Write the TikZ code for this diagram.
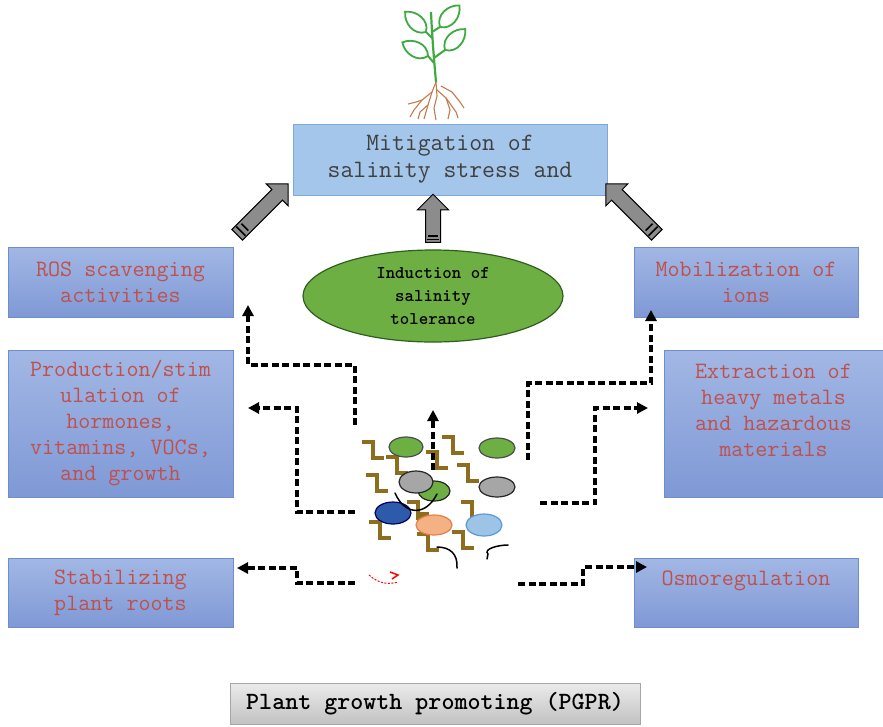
\documentclass[tikz,border=0pt]{standalone}
\usepackage{tikz}
\usetikzlibrary{positioning,shapes.geometric,shapes.arrows,arrows.meta,calc}

\definecolor{sidetop}{HTML}{A2B7E4}
\definecolor{sidebot}{HTML}{7F99D6}
\definecolor{sideline}{HTML}{6E8DCF}
\definecolor{sidetext}{HTML}{C0504D}
\definecolor{mainfill}{HTML}{A4C6EA}
\definecolor{mainline}{HTML}{7FA8DA}
\definecolor{tolfill}{HTML}{6DAF43}
\definecolor{tolline}{HTML}{2F5F1C}
\definecolor{zigcol}{HTML}{8C6E1E}
\definecolor{stemcol}{HTML}{3DAA42}
\definecolor{rootcol}{HTML}{C27A4E}

\begin{document}
\begin{tikzpicture}[x=1pt,y=-1pt,
    sidebox/.style={draw=sideline, top color=sidetop, bottom color=sidebot,
        minimum width=225pt, minimum height=70pt, inner sep=0pt, align=center,
        text=sidetext, font=\ttfamily\fontsize{23.4}{26}\selectfont},
    mainbox/.style={draw=mainline, fill=mainfill, minimum width=314pt,
        minimum height=71pt, inner sep=0pt, align=center, text=black!75,
        font=\ttfamily\fontsize{25}{27}\selectfont},
    bigarrow/.style={single arrow, draw=black, line width=1pt, fill=black!45,
        minimum height=#1, inner sep=7pt, single arrow head extend=8pt,
        single arrow head indent=0pt},
    dasharrow/.style={line width=3.2pt, dash pattern=on 7pt off 3.5pt,
        -{Triangle[length=11pt,width=11pt]}},
    zig/.style={zigcol, line width=4.6pt},
    cell/.style={line width=1.2pt},
    squig/.style={line width=1.5pt, line cap=round},
    leaf/.style={stemcol, line width=1.8pt, fill=white},
    root/.style={rootcol, line width=1.1pt}]

\useasboundingbox (0,0) rectangle (883,726);

% plant on top
\draw[root] (436,82) -- (432,92) -- (422,100) -- (414,110) -- (410,117);
\draw[root] (432,92) -- (428,105) -- (424,119);
\draw[root] (436,82) -- (437,96) -- (434,108) -- (436,120);
\draw[root] (437,90) -- (446,98) -- (450,110) -- (448,119);
\draw[root] (441,86) -- (452,92) -- (460,102) -- (464,108);
\draw[root] (422,100) -- (416,102) -- (408,104);
\draw[root] (446,98) -- (456,112) -- (458,118);
\draw[root] (428,105) -- (420,112) -- (418,119);
\draw[stemcol, line width=2.2pt] (436,82) .. controls (434,60) and (432,35) .. (431,12);
\draw[stemcol, line width=2pt] (432,38) -- (426,32);
\draw[stemcol, line width=2pt] (432,32) -- (440,27);
\draw[stemcol, line width=2pt] (434,58) -- (445,50);
\draw[stemcol, line width=2pt] (434,63) -- (428,56);
\foreach \bx/\by/\ang in {426/32/136, 440/27/48, 445/50/46, 428/56/152}
    \draw[leaf, shift={(\bx,\by)}, rotate=\ang]
        (0,0) .. controls (6,-11) and (22,-9) .. (29,0)
              .. controls (22,9) and (6,11) .. (0,0);

% boxes
\node[mainbox] (mitig) at (450,159.5) {Mitigation of\\salinity stress and};

\node[sidebox] (ros) at (120.5,282) {ROS scavenging\\activities};
\node[sidebox, minimum height=147pt] (prod) at (120.5,423.5)
    {Production/stim\\ulation of\\hormones,\\vitamins, VOCs,\\and growth};
\node[sidebox, minimum height=69pt] (stab) at (120.5,592.5) {Stabilizing\\plant roots};

\node[sidebox, minimum width=224pt] (mob) at (746,282) {Mobilization of\\ions};
\node[sidebox, minimum width=219pt, minimum height=147pt, text depth=27pt] (extr)
    at (773.5,423.5) {Extraction of\\heavy metals\\and hazardous\\materials};
\node[sidebox, minimum width=224pt, minimum height=69pt, text depth=28pt] (osmo)
    at (746,592.5) {Osmoregulation};

\node[ellipse, draw=tolline, line width=1.2pt, fill=tolfill, minimum width=260pt,
    minimum height=92pt, inner sep=0pt, align=center,
    font=\ttfamily\bfseries\fontsize{18}{23}\selectfont] (toler) at (433,296)
    {Induction of\\salinity\\tolerance};

\node[draw=black!35, top color=black!8, bottom color=black!24, minimum width=410pt,
    minimum height=41pt, font=\ttfamily\bfseries\fontsize{24.8}{26}\selectfont]
    (pgpr) at (435,703.5) {Plant growth promoting (PGPR)};

% grey arrows into the top box
\node[bigarrow=72pt, rotate=45] (gL) at (260,212) {};
\node[bigarrow=72pt, rotate=135] (gR) at (634,212) {};
\node[bigarrow=48pt, rotate=90] (gC) at (433,222) {};
\foreach \a in {gL,gR,gC} {
    \draw[line width=1.6pt] ($(\a.before tail)!0.10!(\a.before head)$) -- ($(\a.after tail)!0.10!(\a.after head)$);
    \draw[line width=1.6pt] ($(\a.before tail)!0.20!(\a.before head)$) -- ($(\a.after tail)!0.20!(\a.after head)$);
}

% bacteria cluster
\foreach \x/\y in {373/450, 397/465, 453/445, 437/460, 468/473, 377/483,
                   418/510, 472/510, 380/530, 427/522, 428/542, 463/540}
    \draw[zig, shift={(\x,\y)}] (-11,-8) -- (0,-8) -- (0,8) -- (11,8);

\draw[cell, draw=black!70, fill=tolfill] (406,447) ellipse (17 and 10);
\draw[cell, draw=black!70, fill=tolfill] (497,448) ellipse (18 and 10);
\draw[cell, draw=black!85, fill=tolfill] (434,491) ellipse (16 and 10);
\draw[cell, draw=black!85, fill=black!35] (416,482) ellipse (17 and 11);
\draw[cell, draw=black!85, fill=black!35] (497,487) ellipse (18 and 10);
\draw[cell, draw=blue!40!black, fill={rgb,255:red,46;green,90;blue,172}] (393,513) ellipse (18 and 11);
\draw[cell, draw={rgb,255:red,226;green,128;blue,70}, fill={rgb,255:red,244;green,177;blue,131}] (434,525) ellipse (18 and 10);
\draw[cell, draw={rgb,255:red,91;green,155;blue,213}, fill={rgb,255:red,157;green,195;blue,230}] (484,525) ellipse (18 and 11);

\draw[squig] (395,493) .. controls (405,516) and (426,516) .. (437,494);
\draw[squig] (437,547) .. controls (450,547) and (458,554) .. (457,568);
\draw[squig] (508,545) .. controls (498,545) and (483,549) .. (488,554) -- (487,559);
\draw[red, line width=1pt, dash pattern=on 2pt off 1.5pt] (369,575) .. controls (380,585) and (390,584) .. (398,582);
\draw[red, line width=1.5pt] (390,572) -- (398,575) -- (392,579);

% dashed connectors
\coordinate (s1) at (355,425);
\coordinate (s2) at (355,512);
\coordinate (s3) at (355,583);
\coordinate (s4) at (433,470);
\coordinate (s5) at (528,460);
\coordinate (s6) at (540,503);
\coordinate (s7) at (518,584);
\coordinate (t1) at (248,305);
\coordinate (t2) at (248,408);
\coordinate (t3) at (237,568);
\coordinate (t4) at (433,410);
\coordinate (t5) at (651,310);
\coordinate (t6) at (648,408);
\coordinate (t7) at (647,567);

\draw[dasharrow] (s1) -- ++(0,-60) -| (t1);
\draw[dasharrow] (s2) -- ++(-58,0) |- (t2);
\draw[dasharrow] (s3) -- ++(-58,0) |- (t3);
\draw[dasharrow] (s4) -- (t4);
\draw[dasharrow] (s5) -- ++(0,-77) -| (t5);
\draw[dasharrow] (s6) -- ++(55,0) |- (t6);
\draw[dasharrow] (s7) -- ++(65,0) |- (t7);

\end{tikzpicture}
\end{document}
